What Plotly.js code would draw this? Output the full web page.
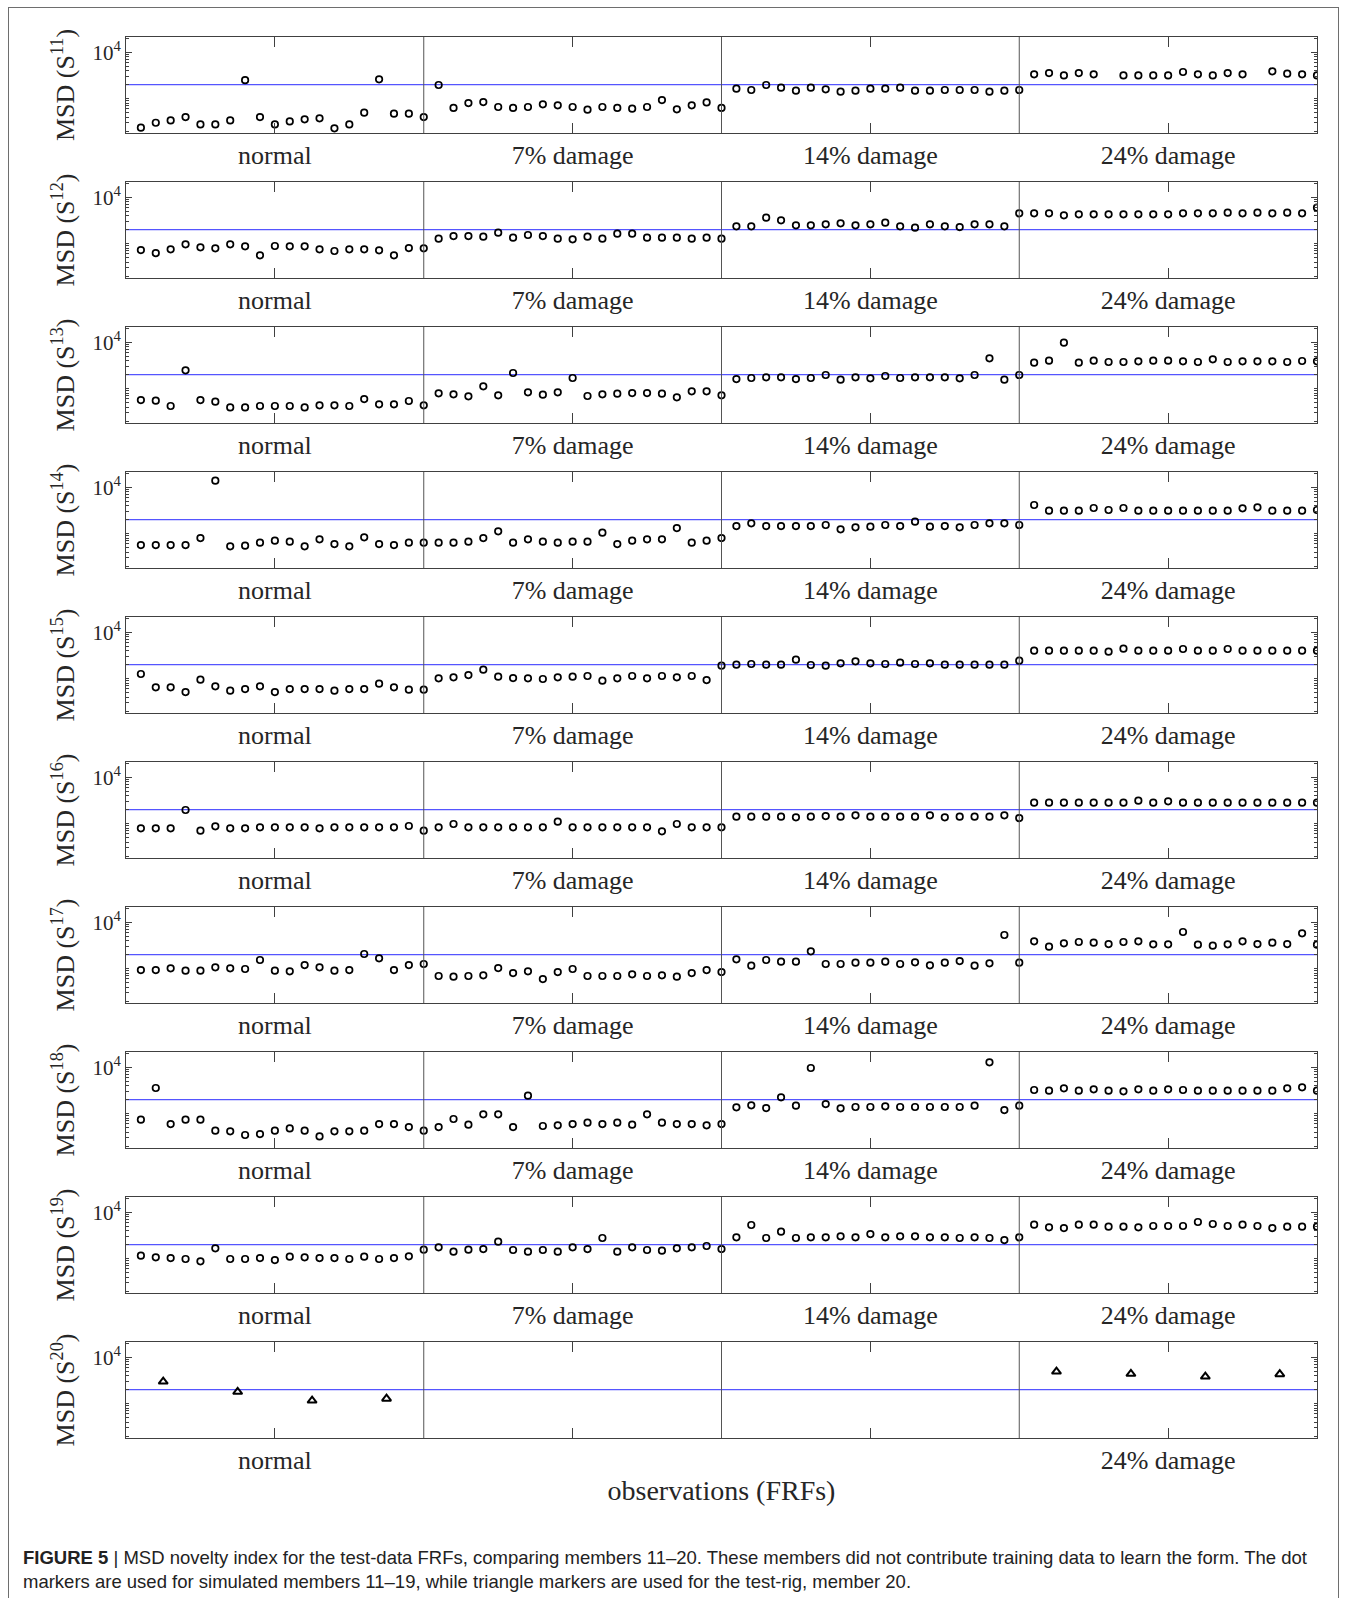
<!DOCTYPE html>
<html>
<head>
<meta charset="utf-8">
<script src="https://cdn.plot.ly/plotly-3.0.1.min.js"></script>
<style>
html,body{margin:0;padding:0;background:#fff;overflow:hidden;}
#wrap{position:relative;width:1357px;height:1598px;overflow:hidden;}
#chart{width:1357px;height:1598px;}
#frame{position:absolute;left:8px;top:7px;width:1331px;height:1610px;border:1px solid #6e6e6e;pointer-events:none;box-sizing:border-box;}
</style>
</head>
<body>
<div id="wrap"><div id="chart"></div><div id="frame"></div></div>
<script>
// ---------------- data ----------------
const groupLabels = ["normal", "7% damage", "14% damage", "24% damage"];
const obsPerGroup = 20;
const threshold = 2000;
const yTickVals = [10000];
const yTickText = ["10<sup>4</sup>"];
const xTitle = "observations (FRFs)";
const memberNames = ["11", "12", "13", "14", "15", "16", "17", "18", "19", "20"];

// MSD values, 80 observations each (normal | 7% | 14% | 24%)
const S11 = [
  237, 303, 339, 402, 279, 279, 339, 2512, 402, 279, 324, 358, 377, 229, 279, 499, 2612, 474, 474, 402,
  1972, 631, 805, 847, 661, 631, 661, 755, 718, 661, 578, 661, 631, 608, 661, 933, 589, 718, 832, 631,
  1644, 1538, 1972, 1726, 1486, 1726, 1589, 1416, 1486, 1644, 1644, 1726, 1486, 1486, 1538, 1538, 1538, 1416, 1486, 1538,
  3350, 3570, 3180, 3570, 3350, null, 3180, 3180, 3180, 3180, 3760, 3350, 3180, 3570, 3350, null, 3880, 3460, 3350, 3180];
const S12 = [
  729, 628, 755, 968, 834, 793, 968, 875, 560, 891, 875, 875, 755, 695, 755, 755, 718, 560, 805, 793,
  1282, 1462, 1462, 1416, 1726, 1346, 1538, 1462, 1282, 1239, 1416, 1282, 1641, 1641, 1346, 1346, 1346, 1282, 1346, 1282,
  2366, 2366, 3640, 3184, 2483, 2483, 2612, 2742, 2483, 2612, 2838, 2366, 2213, 2612, 2366, 2286, 2612, 2612, 2366, 4508,
  4510, 4510, 4080, 4300, 4300, 4300, 4300, 4300, 4300, 4300, 4510, 4510, 4510, 4660, 4510, 4660, 4510, 4660, 4510, 5970];
const S13 = [
  569, 551, 423, 2485, 569, 524, 395, 395, 423, 423, 423, 395, 437, 437, 423, 598, 459, 459, 542, 437,
  793, 755, 683, 1122, 718, 2178, 834, 741, 834, 1698, 695, 755, 780, 805, 805, 780, 650, 875, 875, 718,
  1610, 1698, 1755, 1755, 1610, 1698, 1972, 1563, 1755, 1671, 1876, 1698, 1755, 1755, 1755, 1671, 1972, 4508, 1563, 1972,
  3640, 4020, 9820, 3640, 4020, 3760, 3760, 3880, 4020, 4020, 3880, 3760, 4290, 3760, 3880, 3880, 3880, 3760, 3950, 3880];
const S14 = [
  569, 569, 569, 569, 806, 13900, 533, 551, 640, 706, 672, 533, 755, 598, 533, 834, 598, 569, 640, 640,
  640, 640, 672, 806, 1122, 640, 755, 672, 640, 672, 672, 1050, 598, 706, 755, 755, 1324, 640, 706, 806,
  1462, 1671, 1462, 1462, 1462, 1462, 1538, 1239, 1368, 1415, 1538, 1462, 1814, 1415, 1462, 1368, 1538, 1671, 1671, 1538,
  4150, 3130, 3130, 3130, 3575, 3240, 3575, 3130, 3130, 3130, 3130, 3130, 3130, 3130, 3515, 3700, 3130, 3130, 3130, 3240];
const S15 = [
  1261, 650, 650, 515, 951, 683, 551, 598, 683, 515, 598, 598, 598, 551, 598, 598, 780, 650, 579, 579,
  1016, 1069, 1199, 1563, 1104, 1033, 1016, 984, 1069, 1104, 1141, 906, 1016, 1141, 1016, 1141, 1069, 1141, 935, 1906,
  2004, 2072, 2004, 2004, 2570, 1972, 1906, 2142, 2364, 2142, 2072, 2213, 2072, 2142, 2004, 2004, 2004, 2004, 2004, 2443,
  4020, 4020, 4020, 4020, 4020, 3820, 4440, 4020, 4020, 4020, 4370, 4020, 4020, 4370, 4020, 4020, 4020, 4020, 4020, 4020];
const S16 = [
  793, 793, 793, 1972, 706, 876, 793, 793, 834, 834, 834, 834, 793, 834, 834, 834, 834, 834, 891, 706,
  834, 984, 834, 834, 834, 834, 834, 834, 1104, 834, 834, 834, 834, 834, 834, 683, 984, 834, 834, 834,
  1415, 1415, 1415, 1415, 1368, 1415, 1462, 1415, 1513, 1415, 1415, 1415, 1415, 1513, 1368, 1415, 1415, 1415, 1513, 1324,
  2840, 2840, 2840, 2840, 2840, 2840, 2840, 3130, 2840, 3030, 2840, 2840, 2840, 2840, 2840, 2840, 2840, 2840, 2840, 2840];
const S17 = [
  935, 935, 1016, 906, 906, 1069, 1016, 984, 1538, 906, 875, 1199, 1069, 906, 935, 2072, 1671, 935, 1199, 1261,
  695, 672, 695, 718, 1033, 806, 875, 598, 847, 984, 695, 695, 695, 755, 695, 718, 672, 806, 935, 847,
  1590, 1161, 1538, 1415, 1415, 2364, 1261, 1261, 1346, 1346, 1415, 1261, 1368, 1180, 1346, 1462, 1161, 1303, 5320, 1346,
  3880, 2980, 3520, 3760, 3640, 3400, 3760, 3880, 3350, 3350, 6180, 3290, 3130, 3350, 3880, 3400, 3640, 3400, 5780, 3290];
const S18 = [
  741, 3575, 598, 741, 741, 430, 416, 347, 364, 430, 482, 430, 324, 416, 416, 430, 598, 598, 515, 430,
  515, 767, 579, 967, 967, 515, 2443, 542, 560, 598, 640, 598, 640, 579, 967, 640, 598, 598, 560, 598,
  1368, 1513, 1324, 2250, 1487, 9660, 1615, 1303, 1393, 1393, 1439, 1393, 1393, 1393, 1393, 1393, 1487, 12800, 1199, 1487,
  3240, 3130, 3515, 3130, 3350, 3130, 3030, 3350, 3130, 3350, 3240, 3130, 3130, 3130, 3130, 3130, 3130, 3515, 3700, 3130];
const S19 = [
  1161, 1069, 1033, 984, 875, 1671, 984, 984, 1033, 935, 1104, 1069, 1033, 1033, 984, 1104, 984, 1033, 1122, 1563,
  1755, 1415, 1563, 1615, 2326, 1538, 1415, 1538, 1415, 1755, 1615, 2790, 1415, 1755, 1538, 1487, 1671, 1755, 1876, 1615,
  2884, 5320, 2790, 3820, 2790, 2884, 2884, 3030, 2884, 3400, 2884, 3030, 3030, 2884, 2884, 2790, 2884, 2790, 2525, 2884,
  5410, 4740, 4580, 5410, 5410, 4900, 4900, 4740, 5060, 5060, 5060, 6180, 5600, 5060, 5410, 5060, 4580, 4900, 4900, 4900];
// test-rig member 20 (triangles)
const S20_obs = [2.5, 7.5, 12.5, 17.5, 62.5, 67.5, 72.5, 77.5];
const S20 = [2990, 1800, 1170, 1280, 4930, 4400, 3850, 4315];
const S20_labelGroups = [0, 3]; // groups labelled on the test-rig panel

const caption1 = "<b>FIGURE 5</b> | MSD novelty index for the test-data FRFs, comparing members 11–20. These members did not contribute training data to learn the form. The dot";
const caption2 = "markers are used for simulated members 11–19, while triangle markers are used for the test-rig, member 20.";

// ---------------- layout / drawing ----------------
const simulated = [S11, S12, S13, S14, S15, S16, S17, S18, S19];
const nGroups = groupLabels.length;
const nObs = nGroups * obsPerGroup;
const obsIndex = Array.from({length: nObs}, (_, i) => i + 1);
const xRange = [0, nObs];
const groupCenters = groupLabels.map((_, g) => g * obsPerGroup + obsPerGroup / 2);
const dividers = groupLabels.slice(1).map((_, g) => (g + 1) * obsPerGroup);
const yLogRange = [2.26, 4.33];
const minorVals = [];
[100, 1000, 10000].forEach(d => { for (let k = 1; k <= 9; k++) { const v = k * d; if (v !== 10000 && Math.log10(v) > yLogRange[0] && Math.log10(v) < yLogRange[1]) minorVals.push(v); } });

const FIG_W = 1357, FIG_H = 1598;
const margin = {l: 126, r: 40, t: 37, b: 160};
const plotH = FIG_H - margin.t - margin.b;
const plotW = FIG_W - margin.l - margin.r;
const pitch = 145, panelH = 96;
const serif = "Liberation Serif, Times New Roman, serif";
const sans = "Liberation Sans, Arial, sans-serif";
const axisColor = "#404040";
const textColor = "#262626";

const traces = [];
const shapes = [];
const layout = {
  width: FIG_W, height: FIG_H, margin: margin,
  paper_bgcolor: "#ffffff", plot_bgcolor: "#ffffff",
  showlegend: false, hovermode: false,
  font: {family: serif, color: textColor}
};

memberNames.forEach((m, k) => {
  const id = k === 0 ? "" : String(k + 1);
  const xName = "x" + id, yName = "y" + id;
  const top = pitch * k, bottom = Math.min(top + panelH, plotH);
  const isLast = k === memberNames.length - 1;

  const xa = {
    domain: [0, 1], anchor: yName, range: xRange,
    tickmode: "array",
    tickvals: isLast ? S20_labelGroups.map(g => groupCenters[g]) : groupCenters,
    ticktext: isLast ? S20_labelGroups.map(g => groupLabels[g]) : groupLabels,
    ticks: "inside", ticklen: 10, tickwidth: 1, tickcolor: axisColor,
    showline: true, linecolor: axisColor, linewidth: 1, mirror: "ticks",
    showgrid: false, zeroline: false, ticklabelstandoff: -1,
    tickfont: {family: serif, size: 26, color: textColor}
  };
  if (isLast) {
    xa.minor = {tickmode: "array", tickvals: groupCenters.filter((_, g) => !S20_labelGroups.includes(g)),
                ticks: "inside", ticklen: 10, tickwidth: 1, tickcolor: axisColor, showgrid: false};
    xa.title = {text: xTitle, font: {family: serif, size: 28, color: textColor}, standoff: 6};
  }
  layout["xaxis" + id] = xa;

  layout["yaxis" + id] = {
    domain: [Math.max(0, 1 - bottom / plotH), 1 - top / plotH], anchor: xName,
    type: "log", range: yLogRange,
    tickmode: "array", tickvals: yTickVals, ticktext: yTickText,
    ticks: "inside", ticklen: 6, tickwidth: 1, tickcolor: axisColor,
    minor: {tickmode: "array", tickvals: minorVals, ticks: "inside", ticklen: 3, tickwidth: 1, tickcolor: axisColor, showgrid: false},
    showline: true, linecolor: axisColor, linewidth: 1, mirror: "ticks",
    showgrid: false, zeroline: false,
    tickfont: {family: serif, size: 21, color: textColor},
    title: {text: "MSD (S<sup>" + m + "</sup>)", font: {family: serif, size: 26, color: textColor}, standoff: 10}
  };

  // threshold line
  traces.push({
    type: "scatter", mode: "lines", xaxis: xName, yaxis: yName,
    x: xRange, y: [threshold, threshold],
    line: {color: "rgb(85,85,255)", width: 1.3}
  });

  if (!isLast) {
    traces.push({
      type: "scatter", mode: "markers", xaxis: xName, yaxis: yName,
      x: obsIndex, y: simulated[k], cliponaxis: true,
      marker: {symbol: "circle-open", size: 6.5, color: "#000", line: {width: 1.7, color: "#000"}}
    });
  } else {
    traces.push({
      type: "scatter", mode: "markers", xaxis: xName, yaxis: yName,
      x: S20_obs, y: S20,
      marker: {symbol: "triangle-up-open", size: 8, color: "#000", line: {width: 2, color: "#000"}}
    });
  }

  dividers.forEach(d => shapes.push({
    type: "line", xref: xName, yref: yName + " domain",
    x0: d, x1: d, y0: 0, y1: 1, layer: "above",
    line: {color: "#555555", width: 1}
  }));
});

layout.shapes = shapes;
const pxX = px => (px - margin.l) / plotW;
const pxY = px => 1 - (px - margin.t) / plotH;
layout.annotations = [
  {text: caption1, xref: "paper", yref: "paper", x: pxX(21), y: pxY(1557), xanchor: "left", yanchor: "middle",
   showarrow: false, align: "left", font: {family: sans, size: 18.5, color: "#222"}},
  {text: caption2, xref: "paper", yref: "paper", x: pxX(21), y: pxY(1581), xanchor: "left", yanchor: "middle",
   showarrow: false, align: "left", font: {family: sans, size: 18.5, color: "#222"}}
];

Plotly.newPlot("chart", traces, layout, {staticPlot: true, displayModeBar: false});
</script>
</body>
</html>
